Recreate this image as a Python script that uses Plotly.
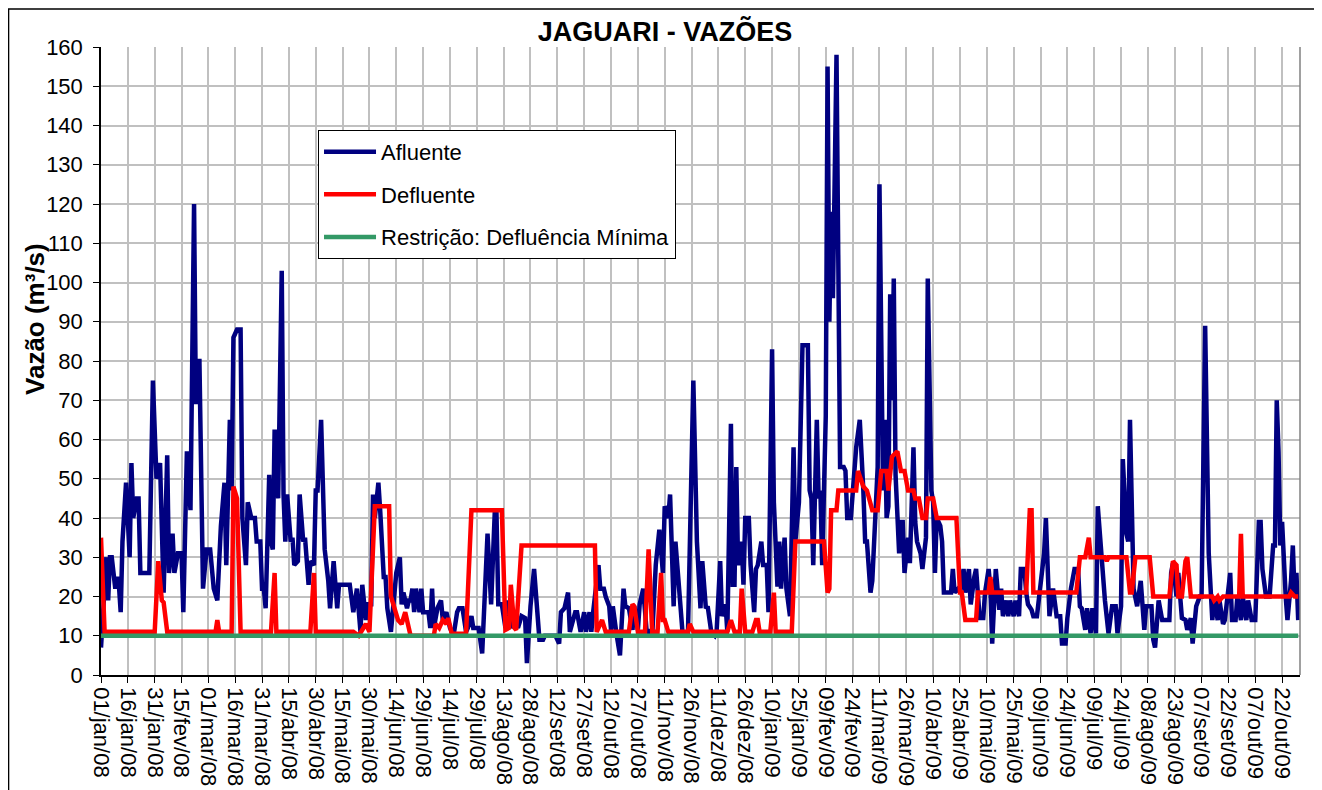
import pandas as pd
import plotly.graph_objects as go

# ---------------- data ----------------
start_date = "2008-01-01"

# Afluente (m3/s): day offset from start_date and value
afl_days = [0, 3, 4, 5, 6, 8, 9, 10, 11, 12, 14, 16, 17, 18, 20, 21, 22, 27, 29, 31, 33, 34, 35, 37, 38, 40, 41, 43, 45, 46,
            48, 50, 52, 53, 54, 55, 57, 59, 61, 63, 65, 67, 69, 70, 72, 73, 74, 76, 78, 79, 81, 82,
            84, 86, 87, 89, 90, 91, 92, 94, 95, 96, 97, 98, 99, 101, 102, 103, 104, 106, 107, 108, 110, 111, 113, 114,
            116, 117, 119, 120, 121, 123, 124, 125, 127, 128, 130, 132, 133, 139, 141, 143, 145, 146, 148, 149, 151,
            152, 153, 155, 156, 158, 159, 160, 162, 164, 165, 167,
            168, 169, 171, 172, 173, 174, 175, 176, 178, 179, 180, 183, 184, 185, 186, 188, 190, 191, 193, 195, 197,
            199, 200, 202, 204, 205, 207, 208, 211, 213, 214, 216, 218, 220, 221, 222, 224, 226, 227, 229, 231, 233,
            235, 237, 238, 240, 242, 243, 245, 247,
            248, 252, 254, 256, 257, 259, 261, 262, 265, 266, 268, 270, 271, 273, 274, 275, 278, 279, 281, 282, 284,
            285, 286, 288, 290, 292, 293, 295, 297, 298, 300, 301, 303, 305, 306, 308, 310, 312, 314, 315, 317, 318,
            320, 321, 323, 325, 328, 329, 330, 331, 333,
            335, 336, 338, 339, 341, 343, 344, 346, 347, 349, 350, 352, 353, 354, 355, 356, 358, 359, 360, 362, 363,
            365, 366, 367, 369, 370, 372, 373, 375, 376, 378, 379, 380, 382, 383, 385, 387, 388, 390, 392, 395, 396,
            397, 398, 400, 401, 402, 403, 405, 406, 407, 408, 409, 411, 413, 415,
            416, 417, 419, 422, 424, 426, 427, 428, 430, 431, 434, 435, 437, 438, 439, 440, 441, 442, 443, 444, 446,
            447, 448, 449, 451, 452, 454, 455, 456, 458, 459, 461, 462, 464, 465, 466, 467, 469, 470, 471, 475, 476,
            477, 479, 480, 482, 483, 485, 486, 488, 489, 491, 493, 494, 496, 497, 498, 500,
            502, 503, 504, 506, 507, 508, 510, 511, 513, 514, 516, 517, 518, 520, 521, 523, 525, 527, 528, 529, 530,
            532, 534, 536, 537, 539, 540, 542, 544, 546, 547, 548, 550, 551, 553, 554, 556, 557, 559, 561, 563, 565,
            567, 568, 570, 571, 573, 574, 575, 576, 577, 579, 581, 583, 584,
            585, 587, 588, 589, 591, 593, 597, 598, 599, 601, 602, 604, 606, 607, 609, 610, 612, 614, 615, 617, 619,
            621, 622, 624, 625, 627, 628, 631, 632, 634, 635, 637, 638, 640, 641, 643, 645, 647, 648, 649, 651, 653,
            655, 656, 657, 658, 659, 660, 662, 663, 665, 666, 667, 668, 669]
afl_vals = [7, 30, 19, 30, 30, 22, 25, 23, 16, 34, 49, 30, 54, 40, 45, 45, 26, 26, 75, 50, 54, 38, 21, 56, 26, 36, 26, 31, 31, 16,
            57, 42, 120, 69, 80, 80, 22, 32, 32, 22, 19, 38, 49, 28, 65, 47, 86, 88, 88, 40, 28, 44,
            40, 40, 34, 34, 22, 22, 17, 51, 34, 32, 62, 62, 45, 103, 46, 34, 46, 34, 35, 28, 29, 46, 34, 35,
            23, 29, 28, 47, 47, 65, 45, 32, 24, 17, 29, 17, 23, 23, 16, 22, 11, 23, 14, 18, 18,
            46, 40, 49, 42, 25, 25, 17, 11, 20, 26, 30,
            18, 21, 17, 19, 19, 22, 16, 22, 16, 22, 16, 16, 12, 22, 12, 17, 19, 14, 16, 12, 10,
            16, 17, 17, 11, 12, 15, 12, 12, 5.5, 18, 36, 18, 41, 41, 18, 18, 12, 19, 12, 14, 12,
            15, 14.5, 3, 17.5, 27, 20, 9, 9,
            10, 10, 10, 8, 16, 17, 21, 11, 16, 16, 11, 16, 11, 16, 11, 16, 28, 22, 22, 20, 17.5,
            11.5, 17.5, 10.6, 5, 22, 17.5, 17, 11.5, 17.5, 11.5, 18, 22, 10.6, 11.5, 10, 28, 37, 26, 43, 40, 46,
            17.5, 34, 22, 10.6, 10.6, 29, 47, 75, 34,
            17, 29, 17, 17.5, 11, 10, 11, 29, 15, 18, 11, 64, 23, 23, 53, 28, 34, 23, 40, 40, 28,
            16, 27, 28, 34, 28, 28, 16, 83, 44, 22.5, 34, 22, 35, 22, 15, 58, 34, 44, 84, 84, 47,
            45, 28, 65, 45, 47, 28, 66, 155, 90, 118, 96, 158, 53, 53,
            52, 40, 40, 58, 65, 47, 34, 34, 21, 24, 53, 125, 47, 65, 40, 43, 97, 70, 101, 51, 31,
            39, 39, 26, 35, 28.5, 58, 39, 34, 31, 27, 35, 101, 47, 44, 26, 40, 38, 34, 21, 21, 27,
            21, 22, 21, 27, 21, 27, 18, 25, 27, 14.5, 14.5, 21, 27, 22, 8, 27,
            16.6, 22, 15, 19, 15, 19, 15, 19, 15, 27, 27, 21, 18, 16.6, 15, 15, 22, 31, 40, 26, 15,
            22, 15, 15, 8, 8, 14.5, 22, 27, 27, 17.5, 17, 11.5, 17, 10.6, 17, 10.6, 43, 30, 19, 10.6, 17.5,
            17.5, 10.6, 17.5, 55, 36, 34, 65, 34, 22, 17.5, 24, 11.5, 17.5,
            17.5, 17.5, 9, 7, 19, 14, 14, 26, 28.5, 20, 26, 14.5, 14, 11.5, 14.5, 8, 17.5, 20, 20, 89, 31,
            14, 20, 14, 19, 13, 14, 26, 14, 14, 20, 14, 20, 14, 19, 14, 14, 39, 39, 27, 20, 20,
            33, 33, 70, 57, 33, 39, 20, 14, 24, 33, 20, 26, 14]

# Defluente (m3/s)
defl_days = [0, 2, 30, 32, 34, 35, 37, 64, 65, 66, 73, 74, 76, 78, 95, 97, 98, 117, 119, 120, 141, 144, 148, 150, 153,
             161, 162, 164, 166, 168, 170, 172, 173, 186, 187, 189, 191, 193, 194, 196, 204, 207, 224, 226, 228, 229,
             231, 232, 235, 276, 277, 280, 282, 295, 297, 298, 300, 304, 306, 308, 311, 313, 314, 315, 317, 328, 329,
             331, 350, 352, 354, 357, 358, 360, 364, 366, 367, 368, 374, 376, 377, 386, 388, 404, 406, 407, 408, 411,
             412, 422, 423, 426, 428, 431, 434, 436, 439, 440, 442, 445, 447, 449, 451, 454, 455, 457, 459, 461, 462,
             465, 467, 478, 480, 481, 483, 489, 490, 496, 497, 498, 517, 519, 520, 521, 545, 547, 550, 552, 553, 561,
             562, 563, 573, 575, 576, 578, 586, 588, 597, 599, 601, 602, 604, 606, 607, 609, 621, 622, 624, 625, 627,
             636, 637, 638, 664, 665, 667, 669]
defl_vals = [35, 11, 11, 29, 19, 18.5, 11, 11, 14, 11, 11, 48, 45, 11, 11, 26, 11, 11, 26, 11, 11, 10, 13, 11, 43,
             43, 20, 17, 14, 13, 16, 12, 10, 10, 13, 12, 14, 13, 14.5, 10.5, 10.5, 42, 42, 11.5, 12, 23,
             12, 11.5, 33, 33, 11, 14, 11, 11, 18, 17.5, 11, 11, 32, 11, 11, 26, 14, 14, 11, 11, 13,
             11, 11, 14, 11, 11, 22, 11, 11, 14, 14, 11, 11, 21, 11, 11, 34, 34, 21, 22, 42, 42,
             47, 47, 52, 48, 47, 42, 42, 52, 52, 47, 55.6, 57, 52, 52, 47, 47, 45, 45, 40, 40, 45,
             45, 40, 40, 21, 21, 14, 14, 21, 21, 25, 21, 21, 42, 42, 21, 21, 30, 30, 35, 30, 30,
             29, 30, 30, 21, 21, 30, 30, 20, 20, 29, 28, 20, 20, 29, 30, 20, 20, 19, 20, 19, 20,
             20, 36, 20, 20, 21, 20, 20]

# Restrição: Defluência Mínima (m3/s)
rest_days = [0, 669]
rest_vals = [10, 10]

tick_labels = ["01/jan/08", "16/jan/08", "31/jan/08", "15/fev/08", "01/mar/08", "16/mar/08", "31/mar/08",
               "15/abr/08", "30/abr/08", "15/mai/08", "30/mai/08", "14/jun/08", "29/jun/08", "14/jul/08",
               "29/jul/08", "13/ago/08", "28/ago/08", "12/set/08", "27/set/08", "12/out/08", "27/out/08",
               "11/nov/08", "26/nov/08", "11/dez/08", "26/dez/08", "10/jan/09", "25/jan/09", "09/fev/09",
               "24/fev/09", "11/mar/09", "26/mar/09", "10/abr/09", "25/abr/09", "10/mai/09", "25/mai/09",
               "09/jun/09", "24/jun/09", "09/jul/09", "24/jul/09", "08/ago/09", "23/ago/09", "07/set/09",
               "22/set/09", "07/out/09", "22/out/09"]
month_abbr = ["jan", "fev", "mar", "abr", "mai", "jun", "jul", "ago", "set", "out", "nov", "dez"]

# ---------------- build ----------------
base = pd.Timestamp(start_date)
to_dates = lambda d: base + pd.to_timedelta(d, unit="D")


def parse_label(s):
    dd, mm, yy = s.split("/")
    return pd.Timestamp(year=2000 + int(yy), month=month_abbr.index(mm) + 1, day=int(dd))


tick_vals = [parse_label(s) for s in tick_labels]

FONT = "Arial, 'Liberation Sans', sans-serif"
W, H = 1314, 782   # page body has an 8px margin

fig = go.Figure()
fig.add_trace(go.Scatter(x=to_dates(afl_days), y=afl_vals, mode="lines", name="Afluente",
                         legendgroup="a", line=dict(color="#000080", width=4.5)))
fig.add_trace(go.Scatter(x=to_dates(defl_days), y=defl_vals, mode="lines", name="Defluente",
                         legendgroup="b", line=dict(color="#FF0000", width=4.5)))
fig.add_trace(go.Scatter(x=to_dates(rest_days), y=rest_vals, mode="lines",
                         name="Restrição: Defluência Mínima",
                         legendgroup="c", line=dict(color="#339966", width=4.5)))

fig.update_layout(
    width=W, height=H,
    margin=dict(l=93, r=22, t=39, b=115),
    paper_bgcolor="white", plot_bgcolor="white",
    font=dict(family=FONT, color="black"),
    title=dict(text="<b>JAGUARI - VAZÕES</b>", x=0.5, xanchor="center", y=1 - 24 / H, yanchor="middle",
               font=dict(size=27, family=FONT, color="black")),
    showlegend=True,
    legend=dict(x=0.181, y=0.868, xanchor="left", yanchor="top", bgcolor="white",
                bordercolor="black", borderwidth=1, font=dict(size=22, family=FONT),
                tracegroupgap=11, itemwidth=52),
    shapes=[
        dict(type="rect", xref="paper", yref="paper", x0=-0.0771, x1=1.015, y0=-0.3, y1=1.0605,
             line=dict(color="black", width=1.5), fillcolor="rgba(0,0,0,0)", layer="above"),
        dict(type="line", xref="paper", yref="paper", x0=1, x1=1, y0=0, y1=1,
             line=dict(color="#808080", width=1.5)),
    ],
    annotations=[
        dict(text="<b>Vazão (m³/s)</b>", xref="paper", yref="paper", x=-0.055, y=0.567,
             xanchor="center", yanchor="middle", textangle=-90, showarrow=False,
             font=dict(size=26, family=FONT, color="black")),
    ],
)

fig.update_xaxes(
    type="date", range=[base, to_dates(670)], automargin=False,
    tickmode="array", tickvals=tick_vals, ticktext=tick_labels, tickangle=90,
    tickfont=dict(size=22, family=FONT, color="black"),
    showgrid=True, gridcolor="#C0C0C0", gridwidth=1.5,
    showline=True, linecolor="black", linewidth=1.5,
    ticks="outside", ticklen=6, tickcolor="black", zeroline=False,
)
fig.update_yaxes(
    range=[0, 160], dtick=10, tick0=0, automargin=False,
    tickfont=dict(size=22, family=FONT, color="black"),
    showgrid=True, gridcolor="#C0C0C0", gridwidth=1.5,
    showline=True, linecolor="black", linewidth=1.5,
    ticks="outside", ticklen=6, tickcolor="black", zeroline=False,
    ticklabelstandoff=6,
)

fig.write_html("out.html")
